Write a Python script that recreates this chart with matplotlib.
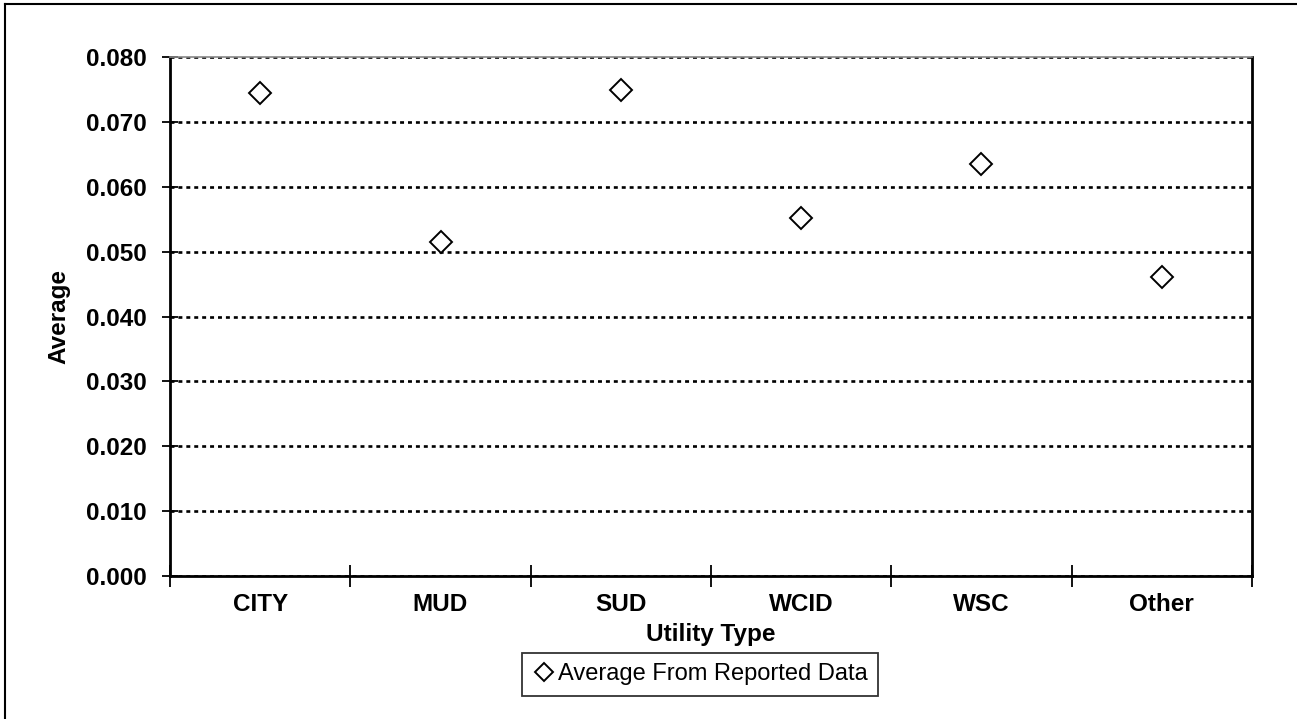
import matplotlib.pyplot as plt
from matplotlib.lines import Line2D

# data
categories = ["CITY", "MUD", "SUD", "WCID", "WSC", "Other"]
averages = [0.0744, 0.0515, 0.0749, 0.0552, 0.0635, 0.0461]
yticks = [0.000, 0.010, 0.020, 0.030, 0.040, 0.050, 0.060, 0.070, 0.080]

plt.rcParams['font.family'] = ['Liberation Sans', 'DejaVu Sans']

fig = plt.figure(figsize=(12.97, 7.19), dpi=100)
ax = fig.add_axes([170/1297, 1-576/719, (1252-170)/1297, (576-57)/719])

# outer frame (only the left and top edges show in the picture)
fig.add_artist(Line2D([5/1297, 5/1297], [0, 1-4/719], color='black', lw=1.5,
                      transform=fig.transFigure))
fig.add_artist(Line2D([5/1297, 1], [1-4/719, 1-4/719], color='black', lw=1.5,
                      transform=fig.transFigure))

xpos = [i + 0.5 for i in range(len(categories))]
ax.plot(xpos, averages, linestyle='none', marker='D', markersize=11,
        markerfacecolor='white', markeredgecolor='black', markeredgewidth=1.4,
        label='Average From Reported Data', zorder=3)

ax.set_xlim(0, len(categories))
ax.set_ylim(0, 0.08)
ax.set_yticks(yticks)
ax.set_yticklabels([f"{v:.3f}" for v in yticks], fontsize=17.5, fontweight='bold')

# category ticks on boundaries, labels in the middle
ax.set_xticks(range(len(categories) + 1))
ax.set_xticklabels([])
ax.set_xticks(xpos, minor=True)
ax.set_xticklabels(categories, minor=True, fontsize=17.5, fontweight='bold')
ax.tick_params(axis='x', which='minor', length=0, pad=12)
ax.tick_params(axis='x', which='major', direction='inout', length=16, width=1.3)
ax.tick_params(axis='y', direction='inout', length=12, width=1.3, pad=11)

ax.yaxis.grid(True, color='black', linestyle=(0, (1.5, 1.5)), linewidth=1.9)
ax.set_axisbelow(True)
for s in ax.spines.values():
    s.set_linewidth(2)
ax.spines['top'].set_color('#888888')
ax.spines['top'].set_linewidth(1.2)

ax.set_xlabel("Utility Type", fontsize=17.5, fontweight='bold', labelpad=5)
ax.set_ylabel("Average", fontsize=17.5, fontweight='bold', labelpad=11)

leg = ax.legend(loc='upper center', bbox_to_anchor=(0.49, -0.148), frameon=True,
                fancybox=False, edgecolor='black', fontsize=17, handletextpad=0.15,
                borderpad=0.45, handlelength=0.9, borderaxespad=0)
leg.get_frame().set_linewidth(1.3)
leg.legend_handles[0].set_markersize(9)

fig.savefig("out.png", dpi=100)
